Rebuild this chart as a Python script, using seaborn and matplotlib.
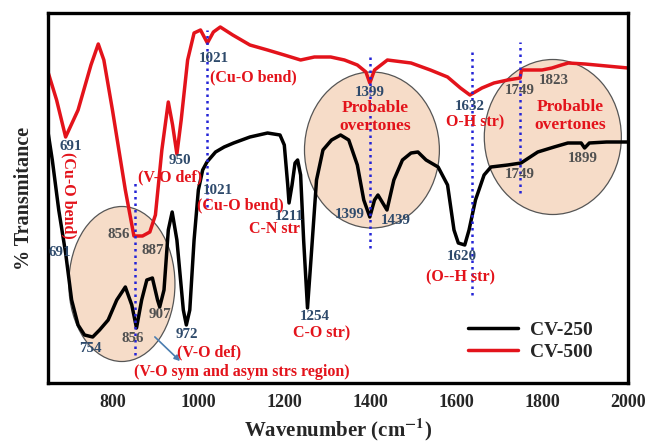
import numpy as np
import pandas as pd
import matplotlib
matplotlib.use("Agg")
import matplotlib.pyplot as plt
from matplotlib.patches import Ellipse
import seaborn as sns

# ---------------- data ----------------
wn_500 = [650, 670, 691, 720, 750, 767, 780, 800, 830, 850, 870, 887, 900, 915, 930, 940, 950,
          960, 975, 990, 1005, 1021, 1035, 1051, 1080, 1120, 1161, 1200, 1238, 1270, 1308,
          1340, 1370, 1390, 1399, 1410, 1440, 1495, 1540, 1580, 1610, 1632, 1660, 1688,
          1720, 1749, 1752, 1800, 1823, 1845, 1861, 1900, 1950, 2000]
t_500 = [311, 283, 246, 273, 318, 339, 323, 273, 193, 147, 147, 151, 168, 233, 281, 258, 229,
         263, 323, 350, 353, 340, 351, 356, 348, 338, 333, 328, 323, 326, 326,
         323, 318, 311, 300, 313, 323, 320, 313, 306, 295, 288, 295, 300,
         303, 305, 313, 313, 315, 318, 320, 319, 317, 315]

wn_250 = [650, 660, 675, 691, 705, 720, 735, 754, 770, 790, 810, 830, 845, 856, 868, 880, 893,
          905, 910, 920, 930, 939, 950, 965, 972, 980, 990, 1000, 1010, 1020, 1040, 1060,
          1082, 1120, 1161, 1190, 1200, 1208, 1211, 1218, 1225, 1231, 1238, 1245, 1254,
          1262, 1275, 1290, 1310, 1331, 1350, 1370, 1385, 1399, 1410, 1418, 1425, 1439,
          1455, 1475, 1495, 1511, 1530, 1558, 1580, 1595, 1605, 1620, 1630, 1645, 1665,
          1681, 1720, 1751, 1790, 1828, 1860, 1891, 1899, 1910, 1950, 2000]
t_250 = [251, 223, 173, 130, 83, 58, 48, 46, 53, 63, 83, 96, 78, 55, 83, 103, 105,
         83, 76, 93, 153, 171, 143, 73, 58, 73, 143, 193, 213, 221, 231, 236,
         240, 246, 250, 248, 238, 198, 180, 198, 220, 223, 208, 143, 75,
         123, 203, 233, 243, 248, 243, 218, 183, 166, 183, 188, 183, 173,
         203, 223, 230, 231, 223, 216, 198, 153, 140, 138, 153, 183, 208,
         216, 218, 220, 231, 236, 240, 240, 235, 240, 241, 241]

series_names = ["CV-250", "CV-500"]
x_ticks = [800, 1000, 1200, 1400, 1600, 1800, 2000]

# marker lines (wavenumber, y0, y1)
vlines = [(852, 28, 201), (1020, 176, 353), (1399, 135, 328), (1637, 88, 333), (1749, 190, 341)]

# shaded regions (center wn, center T, width wn, height T)
ellipses = [(822, 99, 247, 155), (1404, 233, 314, 156), (1825, 246, 319, 155)]

NUM = "#2e4a6b"
GRY = "#505050"
RED = "#e3131b"
# annotations: (text, wn, T, color, rotation)
labels = [
    ("1021", 1036, 324, NUM, 0), ("(Cu-O bend)", 1127, 306, RED, 0),
    ("691", 704, 237, NUM, 0), ("(Cu-O bend)", 697, 188, RED, -90),
    ("950", 957, 222, NUM, 0), ("(V-O def)", 934, 206, RED, 0),
    ("1021", 1046, 193, NUM, 0), ("(Cu-O bend)", 1097, 178, RED, 0),
    ("1211", 1213, 167, NUM, 0), ("C-N str", 1177, 154, RED, 0),
    ("856", 814, 148, GRY, 0), ("887", 894, 133, GRY, 0),
    ("691", 677, 130, NUM, 0), ("907", 910, 68, GRY, 0),
    ("856", 848, 45, GRY, 0), ("754", 748, 35, NUM, 0),
    ("972", 974, 48, NUM, 0), ("(V-O def)", 1024, 31, RED, 0),
    ("(V-O sym and asym strs region)", 1102, 11, RED, 0),
    ("1254", 1271, 66, NUM, 0), ("C-O str)", 1288, 50, RED, 0),
    ("1399", 1399, 290, NUM, 0), ("1632", 1632, 277, NUM, 0),
    ("O-H str)", 1644, 261, RED, 0), ("1749", 1749, 292, GRY, 0),
    ("1823", 1827, 302, GRY, 0), ("1749", 1749, 208, GRY, 0),
    ("1899", 1895, 224, GRY, 0), ("1399", 1353, 168, NUM, 0),
    ("1439", 1460, 163, NUM, 0), ("1620", 1614, 126, NUM, 0),
    ("(O--H str)", 1611, 106, RED, 0),
]
overtone_labels = [(1411, 266), (1865, 267)]

# ---------------- plot ----------------
sns.set_style("white")
plt.rcParams["font.family"] = ["Liberation Serif", "DejaVu Serif"]
plt.rcParams["font.weight"] = "bold"
plt.rcParams["mathtext.fontset"] = "stix"

df = pd.concat([
    pd.DataFrame({"wn": wn_250, "T": t_250, "sample": series_names[0]}),
    pd.DataFrame({"wn": wn_500, "T": t_500, "sample": series_names[1]}),
])

fig = plt.figure(figsize=(6.49, 4.47), dpi=100)
ax = fig.add_axes([48 / 649, 64 / 447, 580 / 649, 370 / 447])

for cx, cy, w, h in ellipses:
    ax.add_patch(Ellipse((cx, cy), w, h, facecolor="#f6dcc8", edgecolor="#555555",
                         linewidth=0.9, zorder=0))

sns.lineplot(data=df, x="wn", y="T", hue="sample", hue_order=series_names[::-1],
             palette={"CV-250": "black", "CV-500": RED}, linewidth=2.5, ax=ax,
             sort=True, estimator=None, zorder=2)

for x, y0, y1 in vlines:
    ax.plot([x, x], [y0, y1], linestyle=(0, (1, 1.6)), color="#2424d6", linewidth=1.8, zorder=3)

for txt, x, y, c, rot in labels:
    ax.text(x, y, txt, color=c, fontsize=10.8 if c != RED else 11.5, fontweight="bold",
            ha="center", va="center", rotation=rot, zorder=4)
for x, y in overtone_labels:
    ax.text(x, y, "Probable\novertones", color=RED, fontsize=12.5, fontweight="bold",
            ha="center", va="center", linespacing=1.1, zorder=4)

ax.annotate("", xy=(962, 20), xytext=(894, 48),
            arrowprops=dict(arrowstyle="-|>", color="#4a7db0", lw=1.2, mutation_scale=8), zorder=4)

ax.set_xlim(650, 2000)
ax.set_ylim(0, 370)
ax.set_xticks(x_ticks)
ax.set_xticklabels([str(t) for t in x_ticks], fontsize=13, fontweight="bold")
ax.set_yticks([])
ax.tick_params(axis="x", direction="out", length=4, width=1.5, pad=4)
for s in ax.spines.values():
    s.set_linewidth(2.4)
    s.set_color("black")
ax.set_xlabel(r"Wavenumber (cm$^{\mathbf{-1}}$)", fontsize=15, fontweight="bold", labelpad=4)
ax.set_ylabel("% Transmitance", fontsize=14.5, fontweight="bold", labelpad=10)

handles, lbls = ax.get_legend_handles_labels()
order = [lbls.index(n) for n in series_names]
leg = ax.legend([handles[i] for i in order], [lbls[i] for i in order], frameon=False,
                loc="center left", bbox_to_anchor=(0.724, 0.113), borderpad=0, borderaxespad=0,
                handlelength=2.6, handletextpad=0.6, labelspacing=0.2,
                prop={"family": "Liberation Serif", "weight": "bold", "size": 14})
for line in leg.get_lines():
    line.set_linewidth(2.5)

fig.savefig("out.png", dpi=100)
